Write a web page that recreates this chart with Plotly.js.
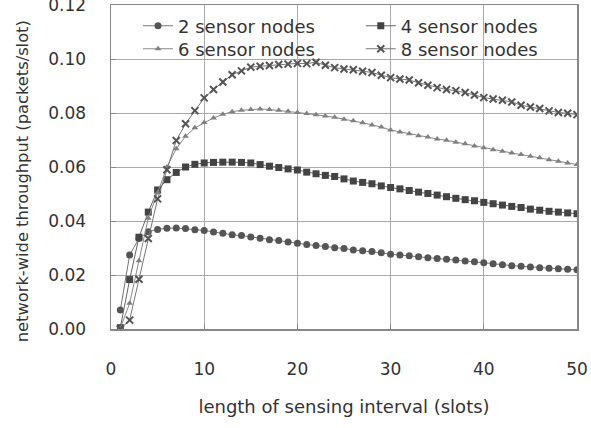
<!DOCTYPE html>
<html>
<head>
<meta charset="utf-8">
<script src="https://cdn.plot.ly/plotly-3.0.1.min.js"></script>
<style>html,body{margin:0;padding:0;background:#fff;}#chart{width:591px;height:428px;}</style>
</head>
<body>
<div id="chart"></div>
<script>
const slots = [];
for (let i = 1; i <= 50; i++) slots.push(i);

const names = ["2 sensor nodes", "4 sensor nodes", "6 sensor nodes", "8 sensor nodes"];

const nodes2 = [0.0070,0.0274,0.0335,0.0360,0.0369,0.0373,0.0374,0.0372,0.0368,0.0365,
  0.0359,0.0355,0.0349,0.0346,0.0341,0.0336,0.0331,0.0328,0.0322,0.0318,
  0.0313,0.0309,0.0306,0.0301,0.0298,0.0293,0.0290,0.0287,0.0282,0.0277,
  0.0274,0.0271,0.0268,0.0264,0.0261,0.0258,0.0256,0.0252,0.0249,0.0245,
  0.0242,0.0238,0.0234,0.0232,0.0230,0.0227,0.0225,0.0223,0.0221,0.0219];

const nodes4 = [0.0005,0.0183,0.0340,0.0433,0.0515,0.0553,0.0580,0.0600,0.0610,0.0615,
  0.0617,0.0618,0.0618,0.0617,0.0615,0.0609,0.0603,0.0598,0.0593,0.0589,
  0.0581,0.0575,0.0569,0.0565,0.0556,0.0548,0.0543,0.0538,0.0530,0.0524,
  0.0519,0.0513,0.0507,0.0502,0.0496,0.0490,0.0484,0.0479,0.0475,0.0469,
  0.0464,0.0459,0.0454,0.0450,0.0444,0.0440,0.0436,0.0433,0.0430,0.0427];

const nodes6 = [0.0003,0.0095,0.0253,0.0410,0.0505,0.0600,0.0668,0.0714,0.0745,0.0765,
  0.0782,0.0795,0.0805,0.0810,0.0813,0.0815,0.0813,0.0810,0.0807,0.0802,
  0.0798,0.0794,0.0789,0.0784,0.0777,0.0771,0.0764,0.0756,0.0748,0.0737,
  0.0730,0.0723,0.0716,0.0711,0.0704,0.0699,0.0692,0.0686,0.0678,0.0671,
  0.0664,0.0658,0.0652,0.0646,0.0640,0.0634,0.0627,0.0621,0.0615,0.0609];

const nodes8 = [0.0000,0.0033,0.0184,0.0335,0.0482,0.0590,0.0698,0.0760,0.0809,0.0856,
  0.0887,0.0915,0.0942,0.0956,0.0970,0.0973,0.0976,0.0980,0.0981,0.0984,
  0.0983,0.0988,0.0977,0.0968,0.0963,0.0960,0.0955,0.0950,0.0940,0.0931,
  0.0926,0.0922,0.0912,0.0903,0.0894,0.0887,0.0883,0.0876,0.0867,0.0857,
  0.0852,0.0847,0.0841,0.0829,0.0822,0.0817,0.0808,0.0802,0.0799,0.0794];

const xTicks = [0, 10, 20, 30, 40, 50];
const yTicks = [0, 0.02, 0.04, 0.06, 0.08, 0.10, 0.12];
const yTickText = ["0.00", "0.02", "0.04", "0.06", "0.08", "0.10", "0.12"];
const xTitle = "length of sensing interval (slots)";
const yTitle = "network-wide throughput (packets/slot)";

const FONT = "DejaVu Sans, Open Sans, sans-serif";
const TXT = "#333333";

function tr(y, name, legendId, symbol, size, mcolor, lcolor, lw) {
  return {
    x: slots, y: y, name: name, type: "scatter", mode: "lines+markers",
    legend: legendId,
    line: {color: lcolor, width: 1},
    marker: {symbol: symbol, size: size, color: mcolor, line: {color: mcolor, width: lw}}
  };
}

const data = [
  tr(nodes2, names[0], "legend", "circle", 7, "#555555", "#777777", 0),
  tr(nodes4, names[1], "legend2", "square", 7, "#444444", "#666666", 0),
  tr(nodes6, names[2], "legend3", "triangle-up", 6, "#808080", "#8a8a8a", 0),
  tr(nodes8, names[3], "legend4", "x-thin-open", 7, "#555555", "#777777", 2)
];

function leg(x, y) {
  return {
    x: x, y: y, xanchor: "left", yanchor: "middle",
    bgcolor: "rgba(0,0,0,0)", borderwidth: 0,
    font: {family: FONT, size: 18, color: TXT}
  };
}

const layout = {
  width: 591, height: 428,
  margin: {l: 111, r: 14, t: 5, b: 99},
  paper_bgcolor: "#ffffff", plot_bgcolor: "#ffffff",
  font: {family: FONT, color: TXT},
  showlegend: true,
  legend: leg(0.058, 0.935),
  legend2: leg(0.536, 0.935),
  legend3: leg(0.058, 0.864),
  legend4: leg(0.536, 0.864),
  shapes: [{
    type: "rect", xref: "paper", yref: "paper", layer: "below",
    x0: 0.05, x1: 0.993, y0: 0.8395, y1: 0.9938,
    fillcolor: "#ffffff", line: {width: 0}
  }],
  annotations: [{
    text: yTitle, xref: "paper", yref: "paper", x: -0.191, y: 0.456,
    xanchor: "center", yanchor: "middle", textangle: -90, showarrow: false,
    font: {family: FONT, size: 16.3, color: TXT}
  }],
  xaxis: {
    range: [0, 50], tickvals: xTicks, ticktext: xTicks.map(String),
    ticks: "inside", ticklen: 5, tickcolor: "#888888",
    showline: true, linecolor: "#888888", linewidth: 1.5, mirror: true,
    showgrid: true, gridcolor: "#aaaaaa", gridwidth: 1, zeroline: false,
    ticklabelstandoff: 24, ticklabeloverflow: "allow",
    tickfont: {family: FONT, size: 17, color: TXT},
    title: {text: xTitle, font: {family: FONT, size: 18, color: TXT}, standoff: 22}
  },
  yaxis: {
    range: [0, 0.12001], tickvals: yTicks, ticktext: yTickText,
    ticks: "inside", ticklen: 5, tickcolor: "#888888",
    showline: true, linecolor: "#888888", linewidth: 1.5, mirror: true,
    showgrid: true, gridcolor: "#aaaaaa", gridwidth: 1, zeroline: false,
    ticklabelstandoff: 20, ticklabeloverflow: "allow",
    tickfont: {family: FONT, size: 17, color: TXT}
  }
};

Plotly.newPlot("chart", data, layout, {displayModeBar: false, staticPlot: true});
</script>
</body>
</html>
